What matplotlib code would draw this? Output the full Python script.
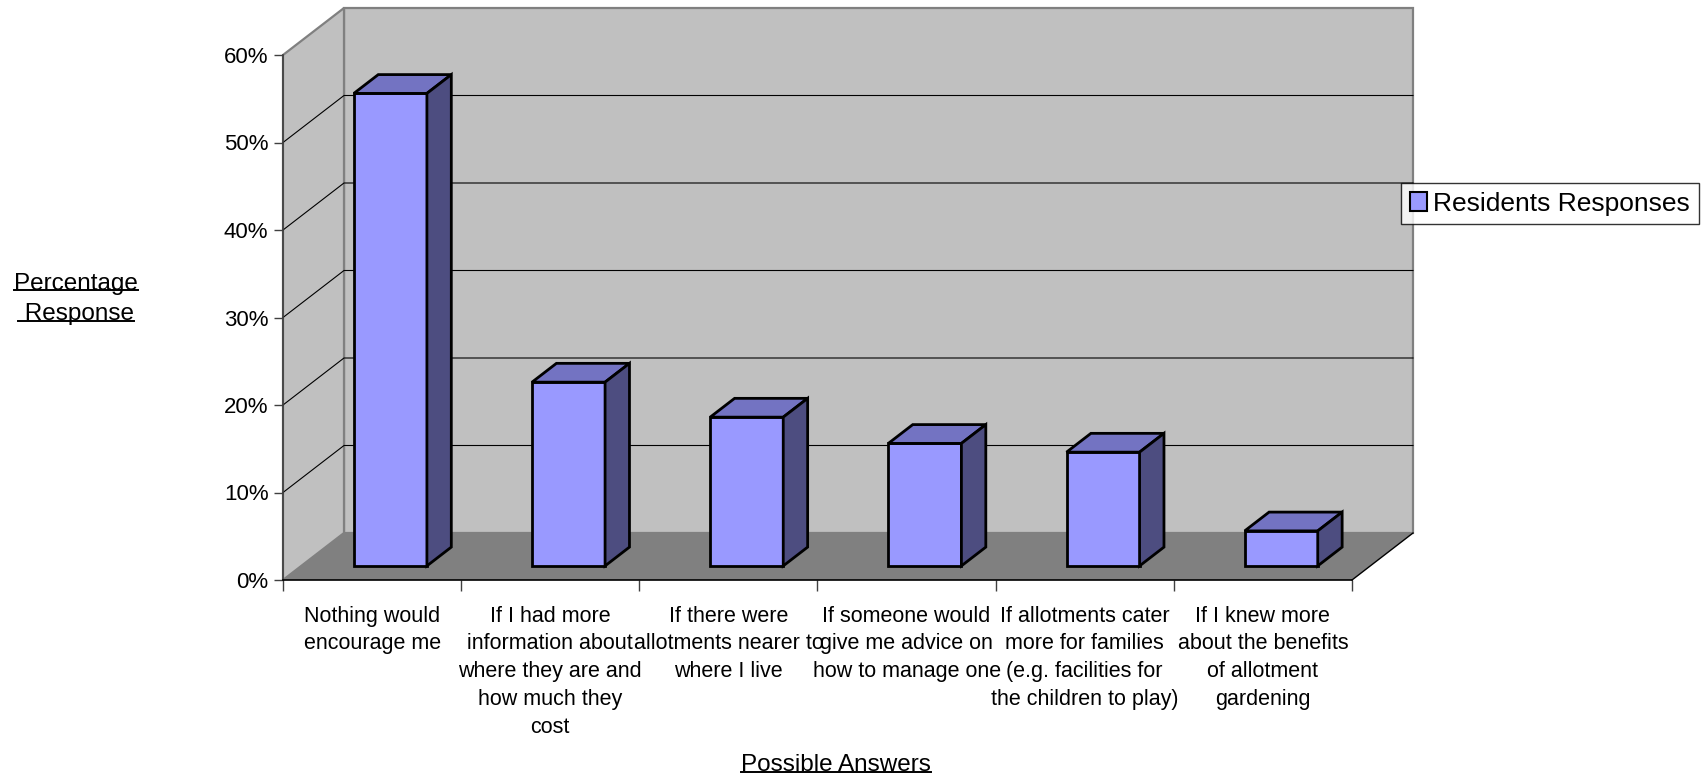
import matplotlib
matplotlib.use("Agg")
import matplotlib.pyplot as plt
from matplotlib.patches import Polygon, Patch
from matplotlib.lines import Line2D

plt.rcParams['font.family'] = ['Liberation Sans', 'DejaVu Sans']

categories = [
    "Nothing would\nencourage me",
    "If I had more\ninformation about\nwhere they are and\nhow much they\ncost",
    "If there were\nallotments nearer to\nwhere I live",
    "If someone would\ngive me advice on\nhow to manage one",
    "If allotments cater\nmore for families\n(e.g. facilities for\nthe children to play)",
    "If I knew more\nabout the benefits\nof allotment\ngardening",
]
values = [54, 21, 17, 14, 13, 4]
series_name = "Residents Responses"
yticks = [0, 10, 20, 30, 40, 50, 60]
ytick_labels = ["0%", "10%", "20%", "30%", "40%", "50%", "60%"]

W, H = 1706, 777
fig = plt.figure(figsize=(W / 100, H / 100), dpi=100)
fig.patch.set_facecolor("white")

left, right, bottom, top = 283, 1352, 580, 55
ax = fig.add_axes([left / W, 1 - bottom / H, (right - left) / W, (bottom - top) / H])
ax.set_xlim(0, len(values))
ax.set_ylim(0, 60)
ax.patch.set_visible(False)

DX = 61 / ((right - left) / len(values))
DY = 47 / ((bottom - top) / 60)
N = len(values)
YMAX = 60


def P(x, y, d):
    return (x + d * DX, y + d * DY)


def poly(pts, fc, ec, lw, z):
    ax.add_patch(Polygon(pts, closed=True, facecolor=fc, edgecolor=ec,
                         linewidth=lw, clip_on=False, zorder=z, joinstyle="miter"))


# walls and floor
poly([P(0, 0, 1), P(N, 0, 1), P(N, YMAX, 1), P(0, YMAX, 1)], "#C0C0C0", "#808080", 1.6, 1)
poly([P(0, 0, 0), P(0, 0, 1), P(0, YMAX, 1), P(0, YMAX, 0)], "#C0C0C0", "#808080", 1.6, 1)
poly([P(0, 0, 0), P(N, 0, 0), P(N, 0, 1), P(0, 0, 1)], "#808080", "none", 0, 1.5)
ax.add_line(Line2D(*zip(P(N, 0, 0), P(N, 0, 1)), color="black", lw=1.0, clip_on=False, zorder=2))

# gridlines
for v in yticks[1:-1]:
    pts = [P(0, v, 0), P(0, v, 1), P(N, v, 1)]
    ax.add_line(Line2D([p[0] for p in pts], [p[1] for p in pts], color="black",
                       lw=0.8, clip_on=False, zorder=2))

# bars
BW = 0.41
D0, D1 = 0.30, 0.70
for i, v in enumerate(values):
    x0 = i + 0.5 - BW / 2
    x1 = i + 0.5 + BW / 2
    poly([P(x0, 0, D0), P(x1, 0, D0), P(x1, v, D0), P(x0, v, D0)], "#9999FF", "black", 2.0, 5)
    poly([P(x0, v, D0), P(x1, v, D0), P(x1, v, D1), P(x0, v, D1)], "#7373C2", "black", 2.0, 5)
    poly([P(x1, 0, D0), P(x1, 0, D1), P(x1, v, D1), P(x1, v, D0)], "#4D4D80", "black", 2.0, 5)

# axes styling
for s in ["top", "right"]:
    ax.spines[s].set_visible(False)
ax.spines["left"].set_color("#404040")
ax.spines["left"].set_linewidth(1.2)
ax.spines["bottom"].set_color("black")
ax.spines["bottom"].set_linewidth(1.2)
ax.spines["left"].set_zorder(3)
ax.spines["bottom"].set_zorder(3)

ax.set_yticks(yticks)
ax.set_yticklabels(ytick_labels, fontsize=16)
ax.tick_params(axis="y", length=6.5, width=1, color="#404040", pad=4)

ax.set_xticks(range(N + 1))
ax.set_xticklabels([])
ax.tick_params(axis="x", which="major", length=8, width=1, color="#404040", direction="out")
ax.set_xticks([i + 0.5 for i in range(N)], minor=True)
ax.set_xticklabels(categories, minor=True, fontsize=15.5, linespacing=1.42, va="top")
ax.tick_params(axis="x", which="minor", length=0, pad=18.5)

# legend
leg = fig.legend(handles=[Patch(facecolor="#9999FF", edgecolor="black", linewidth=1.5)],
                 labels=[series_name], loc="center left",
                 bbox_to_anchor=(1401 / W, 1 - 203.5 / H), fontsize=19,
                 frameon=True, fancybox=False, handlelength=0.65, handleheight=0.75,
                 handletextpad=0.25, borderpad=0.33, borderaxespad=0)
leg.get_frame().set_edgecolor("black")
leg.get_frame().set_linewidth(1.0)

# axis titles with the odd underline
titles = [
    ("Percentage", 76, 290),
    (" Response", 76, 320),
    ("Possible Answers", 836, 771),
]
txts = []
for s, x, y in titles:
    t = fig.text(x / W, 1 - y / H, s, ha="center", va="baseline", fontsize=17.5)
    txts.append((t, y))

fig.canvas.draw()
r = fig.canvas.get_renderer()
for t, y in txts:
    bb = t.get_window_extent(r)
    yy = 1 - (y + 0.5) / H
    fig.add_artist(Line2D([bb.x0 / W, bb.x1 / W], [yy, yy], color="black", lw=1.4,
                          transform=fig.transFigure))

fig.savefig("out.png", dpi=100, facecolor="white")
